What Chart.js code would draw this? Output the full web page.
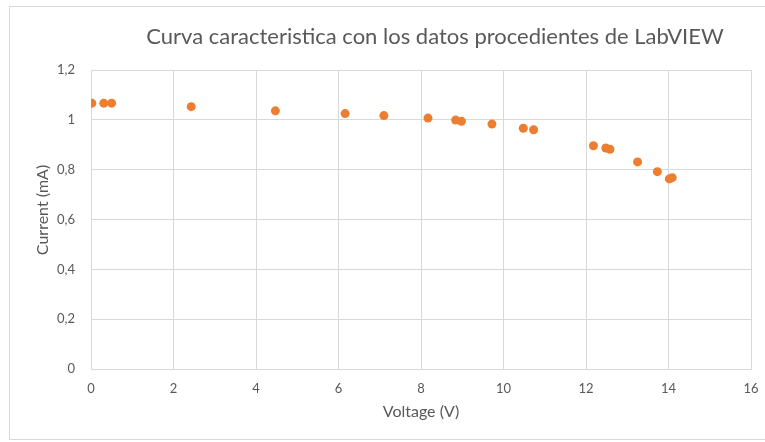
<!DOCTYPE html>
<html><head><meta charset="utf-8">
<script src="https://cdn.jsdelivr.net/npm/chart.js@4/dist/chart.umd.min.js"></script>
<style>
html,body{margin:0;padding:0;background:#fff;}
#wrap{position:relative;width:765px;height:442px;overflow:hidden;background:#fff;}
#frame{position:absolute;left:9px;top:6px;width:800px;height:434px;border:1px solid #d9d9d9;box-sizing:border-box;}
canvas{position:absolute;left:0;top:0;}
</style></head><body>
<div id="wrap"><div id="frame"></div><canvas id="c" width="765" height="442"></canvas></div>
<script>
const chartTitle = "Curva caracteristica con los datos procedientes de LabVIEW";
const xTitle = "Voltage (V)";
const yTitle = "Current (mA)";
const voltage = [0.02, 0.31, 0.50, 2.43, 4.47, 6.16, 7.10, 8.17, 8.84, 8.98, 9.72, 10.48, 10.73, 12.18, 12.48, 12.58, 13.25, 13.73, 14.02, 14.09];
const current = [1.067, 1.067, 1.067, 1.053, 1.036, 1.025, 1.017, 1.007, 0.999, 0.994, 0.983, 0.966, 0.960, 0.896, 0.887, 0.882, 0.831, 0.792, 0.763, 0.768];
const xTicks = [0, 2, 4, 6, 8, 10, 12, 14, 16];
const yTicks = [0, 0.2, 0.4, 0.6, 0.8, 1.0, 1.2];

const points = voltage.map((v, i) => ({x: v, y: current[i]}));
const FONT = "Lato, 'Open Sans', sans-serif";
const fmt = v => Number(v.toFixed(1)).toString().replace('.', ',');

const textPlugin = {
  id: 'ownTexts',
  afterDraw(chart) {
    const ctx = chart.ctx;
    ctx.save();
    ctx.fillStyle = '#595959';
    ctx.textAlign = 'center';
    ctx.textBaseline = 'middle';
    ctx.font = "22px " + FONT;
    ctx.fillText(chartTitle, 435, 37);
    ctx.translate(43, 210);
    ctx.rotate(-Math.PI / 2);
    ctx.font = "16px " + FONT;
    ctx.fillText(yTitle, 0, 0);
    ctx.restore();
  }
};

new Chart(document.getElementById('c'), {
  type: 'scatter',
  data: {
    datasets: [{
      data: points,
      backgroundColor: '#ED7D31',
      borderColor: '#ED7D31',
      pointRadius: 4.5,
      pointHoverRadius: 4.5,
      borderWidth: 0
    }]
  },
  plugins: [textPlugin],
  options: {
    responsive: false,
    animation: false,
    layout: {padding: {left: 0, right: 14, top: 70, bottom: 0}},
    plugins: {
      legend: {display: false},
      tooltip: {enabled: false},
      title: {display: false}
    },
    scales: {
      x: {
        type: 'linear',
        min: 0, max: 16,
        afterBuildTicks: s => { s.ticks = xTicks.map(v => ({value: v})); },
        afterFit: s => { s.height = 73; s.paddingLeft = 0; s.paddingRight = 0; },
        grid: {color: '#d9d9d9', drawTicks: false, lineWidth: 1},
        border: {color: '#d9d9d9'},
        ticks: {color: '#595959', font: {family: FONT, size: 13}, padding: 12, maxRotation: 0},
        title: {display: true, text: xTitle, color: '#595959', font: {family: FONT, size: 16}, padding: {top: 0, bottom: 21}}
      },
      y: {
        type: 'linear',
        min: 0, max: 1.2,
        afterBuildTicks: s => { s.ticks = yTicks.map(v => ({value: v})); },
        afterFit: s => { s.width = 91; s.paddingTop = 0; s.paddingBottom = 0; },
        grid: {color: '#d9d9d9', drawTicks: false, lineWidth: 1},
        border: {color: '#d9d9d9'},
        ticks: {color: '#595959', font: {family: FONT, size: 13}, padding: 16, callback: v => fmt(v)},
        title: {display: false}
      }
    }
  }
});
</script>
</body></html>
